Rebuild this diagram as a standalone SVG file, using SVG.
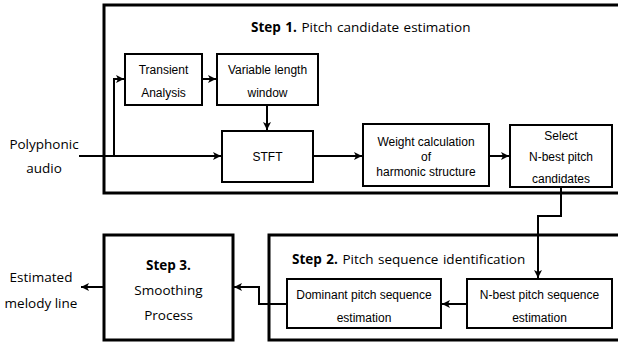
<svg xmlns="http://www.w3.org/2000/svg" width="618" height="347" viewBox="0 0 618 347">
<defs>
<style>
.outer{fill:#fff;stroke:#000;stroke-width:3}
.box{fill:#fff;stroke:#000;stroke-width:2}
.t{font-family:"Liberation Sans",Arial,sans-serif;font-size:12px;fill:#000;text-anchor:middle}
.h{font-family:"Open Sans","Noto Sans",sans-serif;font-size:13.5px;fill:#000}
.c{text-anchor:middle}
.b{font-weight:bold}
.conn path{fill:none;stroke:#000;stroke-width:2;marker-end:url(#ah)}
</style>
<marker id="ah" markerUnits="userSpaceOnUse" markerWidth="9" markerHeight="9" refX="8" refY="4.5" orient="auto">
<path d="M0,0.5 L8,4.5 L0,8.5 L2,4.5 z" fill="#000"/>
</marker>
</defs>
<rect width="618" height="347" fill="#fff"/>

<g id="step1">
<rect class="outer" x="104" y="5" width="530" height="188"/>
<text class="h" x="251" y="32" word-spacing="1"><tspan class="b">Step 1.</tspan> Pitch candidate estimation</text>
</g>
<g id="step2">
<rect class="outer" x="269" y="235" width="360" height="105"/>
<text class="h" x="292" y="264" word-spacing="1"><tspan class="b">Step 2.</tspan> Pitch sequence identification</text>
</g>
<g id="step3">
<rect class="outer" x="104" y="235" width="129" height="105"/>
<text class="h c b" x="168.5" y="270">Step 3.</text>
<text class="h c" x="168.5" y="295">Smoothing</text>
<text class="h c" x="168.5" y="320">Process</text>
</g>

<g id="input">
<text class="h c" x="44" y="149">Polyphonic</text>
<text class="h c" x="44" y="173">audio</text>
</g>
<g id="output">
<text class="h c" x="41" y="282">Estimated</text>
<text class="h c" x="41" y="308">melody line</text>
</g>

<g id="transient">
<rect class="box" x="125" y="54" width="77" height="51"/>
<text class="t" x="163.5" y="74">Transient</text>
<text class="t" x="163.5" y="97">Analysis</text>
</g>
<g id="window">
<rect class="box" x="217" y="54" width="101" height="51"/>
<text class="t" x="267.5" y="74">Variable length</text>
<text class="t" x="267.5" y="97">window</text>
</g>
<g id="stft">
<rect class="box" x="222" y="131" width="91" height="51"/>
<text class="t" x="267.5" y="161">STFT</text>
</g>
<g id="weight">
<rect class="box" x="363" y="124" width="126" height="62"/>
<text class="t" x="426" y="146">Weight calculation</text>
<text class="t" x="426" y="161">of</text>
<text class="t" x="426" y="176">harmonic structure</text>
</g>
<g id="select">
<rect class="box" x="510" y="125" width="102" height="62"/>
<text class="t" x="561" y="140">Select</text>
<text class="t" x="561" y="161">N-best pitch</text>
<text class="t" x="561" y="183">candidates</text>
</g>
<g id="dominant">
<rect class="box" x="287" y="279" width="154" height="49"/>
<text class="t" x="364" y="299">Dominant pitch sequence</text>
<text class="t" x="364" y="322">estimation</text>
</g>
<g id="nbest">
<rect class="box" x="467" y="279" width="145" height="49"/>
<text class="t" x="539.5" y="299">N-best pitch sequence</text>
<text class="t" x="539.5" y="322">estimation</text>
</g>

<g id="connectors" class="conn">
<path d="M79,156 H221"/>
<path d="M114,156 V79 H124"/>
<path d="M202,79 H216"/>
<path d="M267,105 V130"/>
<path d="M313,156 H362"/>
<path d="M489,156 H509"/>
<path d="M561,187 V216 H538 V278"/>
<path d="M467,304 H442"/>
<path d="M287,304 H259 V287 H234"/>
<path d="M104,287 H81"/>
</g>
</svg>
